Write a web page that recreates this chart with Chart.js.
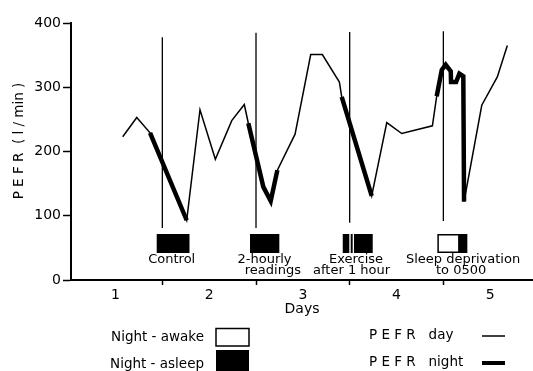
<!DOCTYPE html>
<html>
<head>
<meta charset="utf-8">
<script src="https://cdn.jsdelivr.net/npm/chart.js@4/dist/chart.umd.min.js"></script>
<style>
html, body { margin: 0; padding: 0; background: #fff; }
#wrap { width: 533px; height: 371px; }
</style>
</head>
<body>
<div id="wrap"><canvas id="pefr-chart"></canvas></div>
<script>
// PEFR readings (day number, l/min)
const readingDays = [1.077, 1.227, 1.369, 1.760, 1.902, 2.066, 2.241, 2.375, 2.418, 2.578, 2.657,
    2.728, 2.917, 3.084, 3.208, 3.390, 3.415, 3.735, 3.896, 4.056, 4.383, 4.429, 4.483, 4.525,
    4.579, 4.582, 4.636, 4.671, 4.713, 4.721, 4.910, 5.076, 5.183];
const readingPefr = [223, 253, 229, 93, 265, 188, 248, 273, 244, 145, 123,
    171, 227, 351, 351, 308, 285, 131, 245, 228, 240, 286, 327, 335,
    325, 308, 308, 321, 317, 122, 272, 316, 365];
// 1 = reading taken during the night
const isNight = [0, 0, 1, 1, 0, 0, 0, 0, 1, 1, 1,
    1, 0, 0, 0, 0, 1, 1, 0, 0, 0, 1, 1, 1,
    1, 1, 1, 1, 1, 1, 0, 0, 0];

// midnight markers
const markerDays = [1.5, 2.5, 3.5, 4.5];
const markerTop = [378, 385, 386, 387];
const markerBottom = [81, 81, 89, 92];

// night periods (awake / asleep)
const nightStart = [1.44, 2.436, 3.426, 3.511, 3.546, 4.436, 4.660];
const nightEnd = [1.79, 2.749, 3.496, 3.532, 3.746, 4.660, 4.756];
const nightKind = ["asleep", "asleep", "asleep", "asleep", "asleep", "awake", "asleep"];

const xTicks = [1, 1.5, 2, 2.5, 3, 3.5, 4, 4.5, 5];
const yTicks = [0, 100, 200, 300, 400];

const FONT = "DejaVu Sans";

const dayPoints = readingDays.map((d, i) => ({ x: d, y: readingPefr[i] }));
const nightPoints = readingDays.map((d, i) => ({ x: d, y: isNight[i] ? readingPefr[i] : null }));

const markerSets = markerDays.map((d, i) => ({
    data: [{ x: d, y: markerTop[i] }, { x: d, y: markerBottom[i] }],
    borderColor: "#000",
    borderWidth: 1.3,
    pointRadius: 0,
}));

const extras = {
    id: "extras",
    afterDraw(chart) {
        const ctx = chart.ctx;
        const xs = chart.scales.x;
        const bottom = chart.chartArea.bottom;
        ctx.save();

        // night boxes
        for (let i = 0; i < nightStart.length; i++) {
            const x0 = xs.getPixelForValue(nightStart[i]);
            const x1 = xs.getPixelForValue(nightEnd[i]);
            const top = bottom - 46;
            if (nightKind[i] === "asleep") {
                ctx.fillStyle = "#000";
                ctx.fillRect(x0, top, x1 - x0, 19);
            } else {
                ctx.strokeStyle = "#000";
                ctx.lineWidth = 1.5;
                ctx.strokeRect(x0 + 0.75, top + 0.75, x1 - x0, 17.5);
            }
        }

        // condition labels
        ctx.fillStyle = "#000";
        ctx.font = "13px " + FONT;
        ctx.textAlign = "center";
        ctx.textBaseline = "middle";
        const labels = [
            ["Control", 1.6, 0],
            ["2-hourly", 2.591, 0], ["readings", 2.68, 1],
            ["Exercise", 3.568, 0], ["after 1 hour", 3.52, 1],
            ["Sleep deprivation", 4.71, 0], ["to 0500", 4.69, 1],
        ];
        labels.forEach(([txt, d, row]) => {
            ctx.fillText(txt, xs.getPixelForValue(d), bottom - 20 + row * 11);
        });

        // y axis title
        ctx.save();
        ctx.translate(19, 141);
        ctx.rotate(-Math.PI / 2);
        ctx.font = "13.5px " + FONT;
        ctx.fillText("P E F R  ( l / min )", 0, 0);
        ctx.restore();

        // key
        ctx.font = "13.5px " + FONT;
        ctx.textAlign = "right";
        ctx.fillText("Night - awake", 204, 337);
        ctx.fillText("Night - asleep", 204, 364);
        ctx.lineWidth = 1.5;
        ctx.strokeRect(216, 328.5, 33, 17.5);
        ctx.fillRect(216, 350, 33, 22);

        ctx.textAlign = "left";
        ctx.fillText("P E F R   day", 369, 335);
        ctx.fillText("P E F R   night", 369, 362);
        ctx.beginPath();
        ctx.moveTo(482, 336);
        ctx.lineTo(505, 336);
        ctx.stroke();
        ctx.lineWidth = 4;
        ctx.beginPath();
        ctx.moveTo(482, 363);
        ctx.lineTo(505, 363);
        ctx.stroke();
        ctx.restore();
    },
};

Chart.defaults.font.family = FONT;
Chart.defaults.font.size = 14;
Chart.defaults.color = "#000";

new Chart(document.getElementById("pefr-chart"), {
    type: "line",
    data: {
        datasets: [
            ...markerSets,
            {
                label: "PEFR day",
                data: dayPoints,
                borderColor: "#000",
                borderWidth: 1.5,
                pointRadius: 0,
                tension: 0,
            },
            {
                label: "PEFR night",
                data: nightPoints,
                borderColor: "#000",
                borderWidth: 4.5,
                pointRadius: 0,
                tension: 0,
                spanGaps: false,
            },
        ],
    },
    options: {
        responsive: true,
        maintainAspectRatio: false,
        animation: false,
        layout: { padding: { top: 23, right: 0, left: 0, bottom: 0 } },
        plugins: {
            legend: { display: false },
            tooltip: { enabled: false },
        },
        scales: {
            x: {
                type: "linear",
                min: 0.525,
                max: 5.457,
                afterBuildTicks: (scale) => { scale.ticks = xTicks.map(v => ({ value: v })); },
                afterFit: (scale) => { scale.height = 91; },
                ticks: {
                    autoSkip: false,
                    maxRotation: 0,
                    padding: 2,
                    callback: (v) => Number.isInteger(v) ? String(v) : "",
                },
                grid: {
                    drawOnChartArea: false,
                    tickLength: 5,
                    tickWidth: 1.5,
                    tickColor: (c) => (c.tick && !Number.isInteger(c.tick.value)) ? "#000" : "rgba(0,0,0,0)",
                },
                border: { color: "#000", width: 2 },
                title: {
                    display: true,
                    text: "Days",
                    padding: { top: 0, bottom: 53 },
                },
            },
            y: {
                min: 0,
                max: 400,
                afterBuildTicks: (scale) => { scale.ticks = yTicks.map(v => ({ value: v })); },
                afterFit: (scale) => { scale.width = 71; },
                ticks: { padding: 2 },
                grid: {
                    drawOnChartArea: false,
                    tickLength: 8,
                    tickWidth: 1.5,
                    tickColor: "#000",
                },
                border: { color: "#000", width: 2 },
            },
        },
    },
    plugins: [extras],
});
</script>
</body>
</html>
